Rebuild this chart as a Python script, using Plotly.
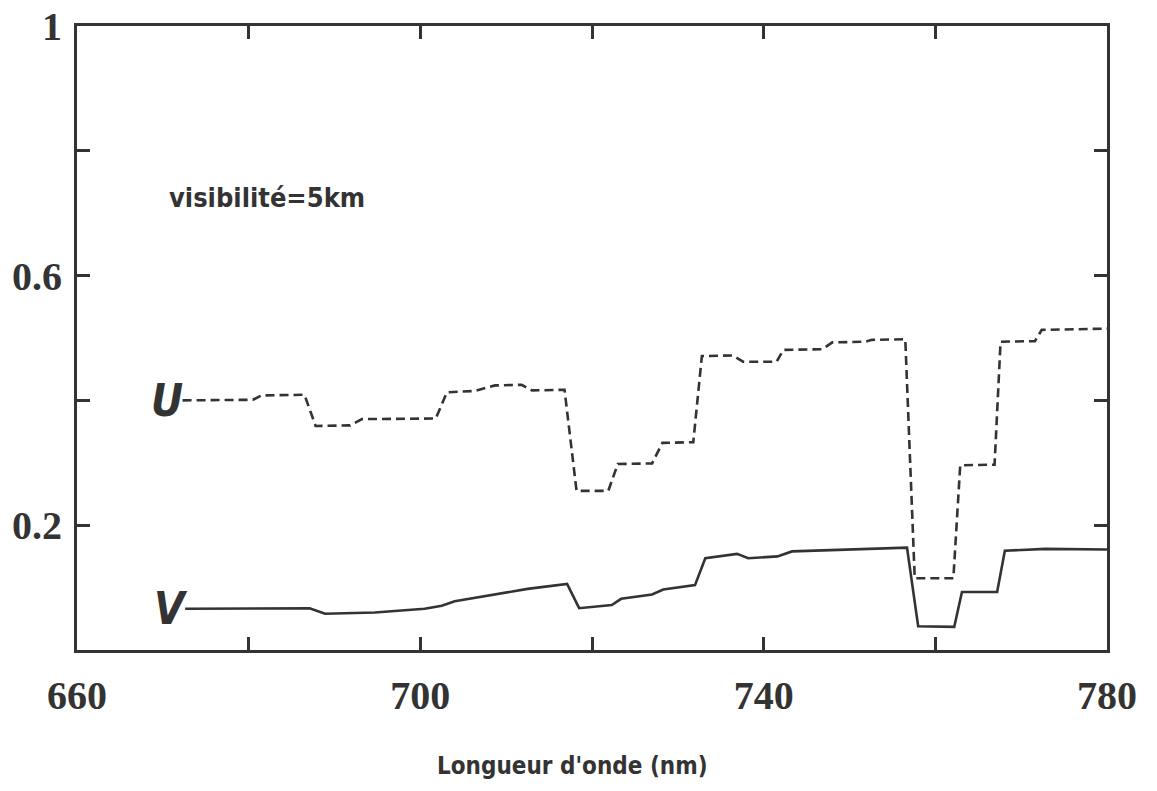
import plotly.graph_objects as go

# Wavelength grid (nm) and values for the two spectra
u_wavelength = [672.3, 680.5, 681.5, 686.5, 687.8, 691.8, 693.2, 701.8, 703.1, 706.3,
                708.7, 711.8, 713.0, 716.8, 718.2, 721.9, 723.0, 727.0, 728.2, 731.8,
                732.8, 736.4, 737.6, 741.5, 742.3, 746.8, 748.0, 751.8, 752.6, 756.5,
                757.6, 762.1, 762.9, 766.9, 767.6, 771.6, 772.4, 780.0]
u_values = [0.400, 0.401, 0.408, 0.409, 0.359, 0.360, 0.370, 0.371, 0.413, 0.415,
            0.424, 0.425, 0.416, 0.417, 0.255, 0.255, 0.298, 0.299, 0.332, 0.333,
            0.471, 0.472, 0.462, 0.462, 0.481, 0.482, 0.493, 0.494, 0.497, 0.498,
            0.115, 0.115, 0.296, 0.297, 0.494, 0.495, 0.513, 0.515]

v_wavelength = [672.6, 687.1, 688.9, 694.7, 700.5, 702.5, 704.0, 707.5, 712.5, 717.1,
                718.5, 722.3, 723.4, 727.0, 728.3, 732.0, 733.2, 736.9, 738.2, 741.6,
                743.3, 756.7, 758.0, 762.2, 763.1, 767.2, 768.1, 772.8, 780.0]
v_values = [0.066, 0.067, 0.058, 0.060, 0.066, 0.071, 0.078, 0.086, 0.098, 0.106,
            0.067, 0.072, 0.082, 0.089, 0.097, 0.104, 0.147, 0.154, 0.147, 0.150,
            0.158, 0.164, 0.038, 0.037, 0.093, 0.093, 0.159, 0.162, 0.161]

x_tickvals = [660, 680, 700, 720, 740, 760, 780]
x_ticktext = ["660", "", "700", "", "740", "", "780"]
y_tickvals = [0.2, 0.4, 0.6, 0.8, 1.0]
y_ticktext = ["0.2", "", "0.6", "", "1"]

INK = "#333333"
SERIF = "Liberation Serif, DejaVu Serif, serif"
NARROW = "Liberation Sans Narrow, DejaVu Sans Condensed, Arial Narrow, sans-serif"

# Plot-area geometry in pixels (used to place the free text)
TOP, BOTTOM, LEFT, RIGHT = 26, 650, 77, 1107

fig = go.Figure()
fig.add_trace(go.Scatter(x=u_wavelength, y=u_values, mode="lines",
                         line=dict(color=INK, width=2.6, dash="9px,5px"),
                         showlegend=False, hoverinfo="skip"))
fig.add_trace(go.Scatter(x=v_wavelength, y=v_values, mode="lines",
                         line=dict(color=INK, width=2.6),
                         showlegend=False, hoverinfo="skip"))

axis_common = dict(showline=True, linewidth=3, linecolor=INK, mirror="ticks",
                   ticks="inside", ticklen=13, tickwidth=3, tickcolor=INK,
                   showgrid=False, zeroline=False, ticklabeloverflow="allow",
                   automargin=False,
                   tickfont=dict(family=SERIF, size=40, color=INK, weight="bold"))

fig.update_xaxes(range=[660, 780], tickvals=x_tickvals, ticktext=x_ticktext,
                 ticklabelstandoff=8, **axis_common)
fig.update_yaxes(range=[0, 1], tickvals=y_tickvals, ticktext=y_ticktext,
                 ticklabelstandoff=4, **axis_common)

# Curve labels
fig.add_annotation(x=670.5, y=0.40, text="<b><i>U</i></b>", showarrow=False,
                   font=dict(family=NARROW, size=44, color=INK))
fig.add_annotation(x=671.0, y=0.066, text="<b><i>V</i></b>", showarrow=False,
                   font=dict(family=NARROW, size=44, color=INK))

H = BOTTOM - TOP
W = RIGHT - LEFT

# Visibility note
fig.add_annotation(xref="paper", yref="paper", x=(167 - LEFT) / W, y=(BOTTOM - 197) / H,
                   xanchor="left", yanchor="middle", text="<b>visibilité=5km</b>",
                   showarrow=False, font=dict(family=NARROW, size=27, color=INK))

# Axis title
fig.add_annotation(xref="paper", yref="paper", x=(572 - LEFT) / W, y=(BOTTOM - 766) / H,
                   xanchor="center", yanchor="middle", text="<b>Longueur d'onde (nm)</b>",
                   showarrow=False, font=dict(family=NARROW, size=24, color=INK))

fig.update_layout(width=1157, height=791,
                  margin=dict(l=LEFT, r=1157 - RIGHT, t=TOP, b=791 - BOTTOM),
                  plot_bgcolor="white", paper_bgcolor="white")

fig.write_html("out.html")
